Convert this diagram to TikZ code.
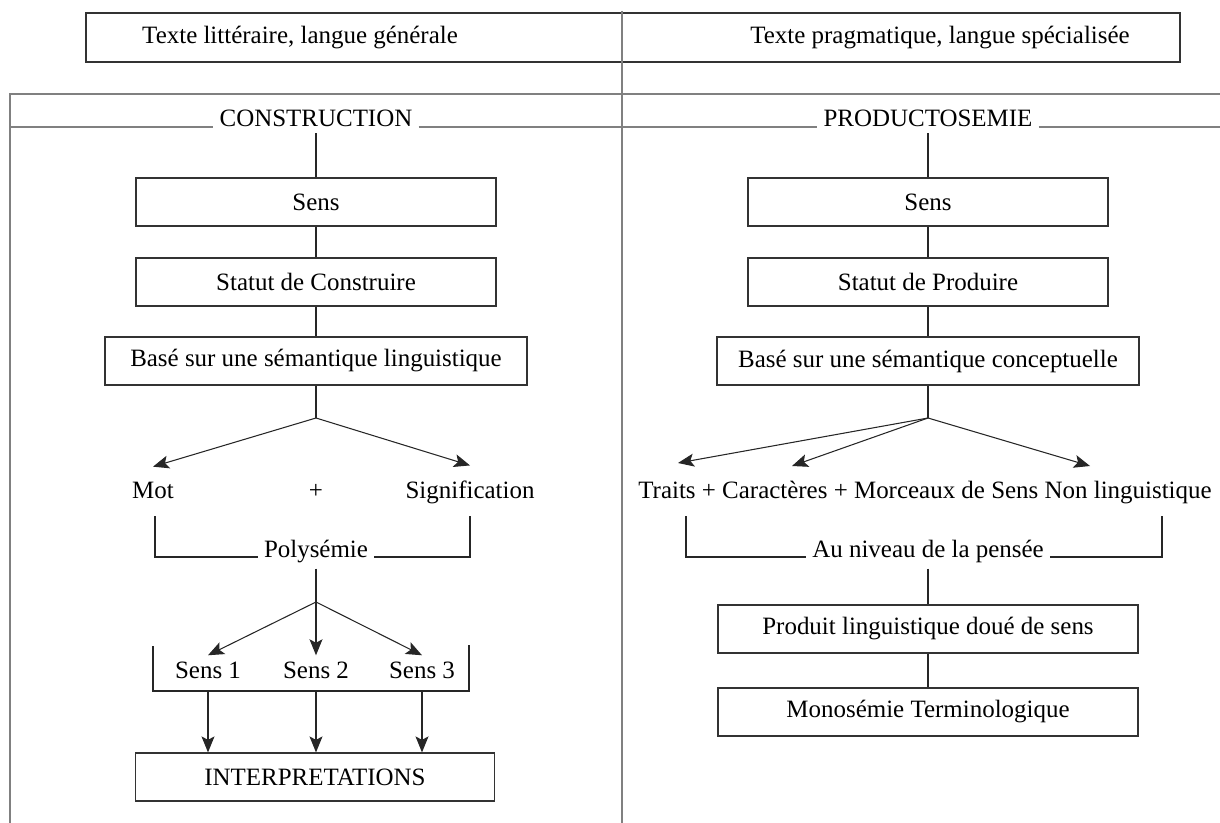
\documentclass[tikz,border=0pt]{standalone}
\usepackage{fontspec}
\setmainfont{Liberation Serif}
\usetikzlibrary{arrows.meta}

\begin{document}
\begin{tikzpicture}[>={Stealth[length=3.2mm,width=2.6mm,inset=0.7mm]},
  cadre/.style={line width=0.8pt,black!50},
  boite/.style={draw=black!80,line width=0.7pt,minimum height=0.96cm},
  lien/.style={line width=0.6pt,black!85},
  font=\fontsize{14.2}{16}\selectfont]
  \useasboundingbox (0,0) rectangle (24.4,-16.46);
  \node[boite,minimum width=10.72cm,minimum height=0.98cm] (celluleL) at (7.08,-0.75) {};
  \node[boite,minimum width=11.16cm,minimum height=0.98cm] (celluleR) at (18.02,-0.75) {};
  \node (litt) at (6.0,-0.75) {Texte littéraire, langue générale};
  \node (prag) at (18.8,-0.75) {Texte pragmatique, langue spécialisée};
  \draw[cadre] (12.44,-0.22)--(12.44,-16.46);
  \draw[cadre] (24.4,-1.88)--(0.2,-1.88)--(0.2,-16.46);
  \node[anchor=base] (constr) at (6.32,-2.54) {CONSTRUCTION};
  \draw[cadre] (0.2,-2.54)--(constr.base west);
  \draw[cadre] (constr.base east)--(12.44,-2.54);
  \node[anchor=base] (prodsem) at (18.56,-2.54) {PRODUCTOSEMIE};
  \draw[cadre] (12.44,-2.54)--(prodsem.base west);
  \draw[cadre] (prodsem.base east)--(24.4,-2.54);

  \node[boite,minimum width=7.2cm] (sensA) at (6.32,-4.04) {Sens};
  \node[boite,minimum width=7.2cm] (statA) at (6.32,-5.64) {Statut de Construire};
  \node[boite,minimum width=8.44cm] (baseA) at (6.32,-7.22) {Basé sur une sémantique linguistique};
  \coordinate (fourchA) at (6.32,-8.36);
  \draw[lien] (constr)--(sensA);
  \draw[lien] (sensA)--(statA);
  \draw[lien] (statA)--(baseA);
  \draw[lien] (baseA)--(fourchA);
  \node[anchor=base] (mot) at (3.06,-9.96) {Mot};
  \node[anchor=base] (plus) at (6.32,-9.96) {+};
  \node[anchor=base] (signif) at (9.4,-9.96) {Signification};
  \draw[lien,->] (fourchA)--([yshift=5pt]mot.north);
  \draw[lien,->] (fourchA)--([yshift=5pt]signif.north);
  \node[anchor=base] (polys) at (6.32,-11.14) {Polysémie};
  \draw[lien] (3.1,-10.32) |- (polys.base west);
  \draw[lien] (polys.base east) -| (9.4,-10.32);
  \coordinate (fourchB) at (6.32,-12.04);
  \draw[lien] (polys)--(fourchB);
  \node[anchor=base] (sens1) at (4.16,-13.56) {Sens 1};
  \node[anchor=base] (sens2) at (6.32,-13.56) {Sens 2};
  \node[anchor=base] (sens3) at (8.44,-13.56) {Sens 3};
  \draw[lien,->] (fourchB)--(sens1.north);
  \draw[lien,->] (fourchB)--(sens2.north);
  \draw[lien,->] (fourchB)--(sens3.north);
  \draw[lien] (3.06,-12.92)|-(9.38,-13.82)--(9.38,-12.9);
  \coordinate (brasA) at (6.32,-13.82);
  \node[boite,minimum width=7.18cm] (interp) at (6.3,-15.54) {INTERPRETATIONS};
  \draw[lien,->] (sens1 |- brasA)--(sens1 |- interp.north);
  \draw[lien,->] (sens2 |- brasA)--(sens2 |- interp.north);
  \draw[lien,->] (sens3 |- brasA)--(sens3 |- interp.north);

  \node[boite,minimum width=7.2cm] (sensB) at (18.56,-4.04) {Sens};
  \node[boite,minimum width=7.2cm] (statB) at (18.56,-5.64) {Statut de Produire};
  \node[boite,minimum width=8.44cm] (baseB) at (18.56,-7.22) {Basé sur une sémantique conceptuelle};
  \coordinate (fourchC) at (18.56,-8.36);
  \draw[lien] (prodsem)--(sensB);
  \draw[lien] (sensB)--(statB);
  \draw[lien] (statB)--(baseB);
  \draw[lien] (baseB)--(fourchC);
  \node[anchor=base] (traits) at (18.5,-9.96) {Traits + Caractères + Morceaux de Sens Non linguistique};
  \coordinate (versTraits) at (13.56,-9.26);
  \coordinate (versCarac) at (15.84,-9.32);
  \coordinate (versNon) at (21.8,-9.32);
  \draw[lien,->] (fourchC)--(versTraits);
  \draw[lien,->] (fourchC)--(versCarac);
  \draw[lien,->] (fourchC)--(versNon);
  \node[anchor=base] (pensee) at (18.56,-11.14) {Au niveau de la pensée};
  \draw[lien] (13.72,-10.32) |- (pensee.base west);
  \draw[lien] (pensee.base east) -| (23.24,-10.32);
  \node[boite,minimum width=8.4cm] (produit) at (18.56,-12.58) {Produit linguistique doué de sens};
  \node[boite,minimum width=8.4cm] (mono) at (18.56,-14.24) {Monosémie Terminologique};
  \draw[lien] (pensee)--(produit);
  \draw[lien] (produit)--(mono);
\end{tikzpicture}
\end{document}
